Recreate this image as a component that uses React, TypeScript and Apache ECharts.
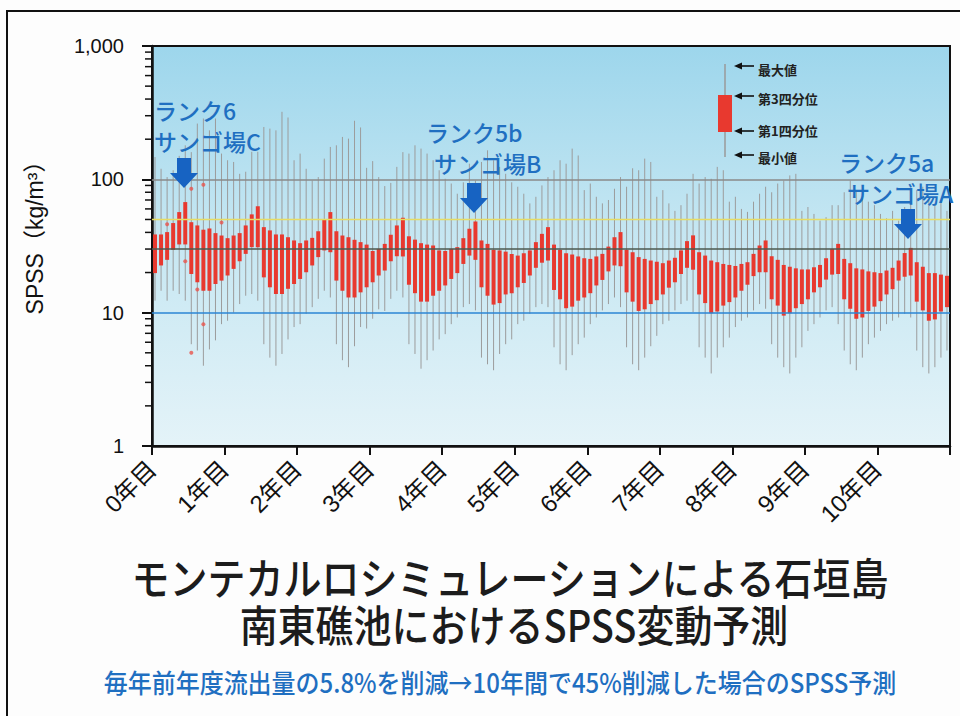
import React, { useEffect, useRef } from 'react';
import * as echarts from 'echarts';

// ---- data ----
const yearLabels = ['0年目', '1年目', '2年目', '3年目', '4年目', '5年目', '6年目', '7年目', '8年目', '9年目', '10年目'];
const monthsPerYear = 12;
const totalMonths = 132;
const yTickLabels = ['1', '10', '100', '1,000'];
const yMinorTickValues = [2, 3, 4, 5, 6, 7, 8, 9, 20, 30, 40, 50, 60, 70, 80, 90, 200, 300, 400, 500, 600, 700, 800, 900];
const yAxisTitle = 'SPSS（kg/m³）';

const qMin = [
  12.3, 14.6, 12.3, 14.6, 13.8, 12.3, 5.8, 5.2, 4.0, 5.3, 6.2, 8.2,
  8.7, 10, 11.6, 13.4, 13.8, 12.3, 5.8, 4.6, 4.0, 4.9, 6.3, 7.8,
  8.2, 9.8, 11, 12.7, 14.6, 13, 5.8, 4.4, 3.9, 5.6, 7.8, 7.6,
  9.0, 10.6, 10.3, 12.7, 14.6, 13.0, 5.8, 4.9, 3.8, 4.4, 5.2, 6.3,
  6.9, 8.2, 9.2, 11.0, 11.6, 10.4, 4.6, 4.1, 3.7, 4.9, 5.8, 6.3,
  8.2, 8.7, 9.8, 11.0, 11.6, 11.0, 5.5, 4.1, 3.7, 4.8, 5.8, 6.5,
  8.2, 9.2, 10.4, 11.6, 13.0, 11.0, 5.5, 4.1, 3.7, 4.6, 5.6, 6.7,
  8.2, 8.7, 10.4, 11.6, 12.3, 10.1, 5.5, 4.6, 3.5, 4.6, 5.5, 6.5,
  7.8, 8.7, 9.2, 10.4, 11.6, 10.7, 5.8, 4.6, 3.9, 3.5, 4.6, 5.5,
  7.3, 8.2, 9.2, 10.4, 11.0, 8.2, 5.2, 4.1, 3.7, 4.6, 5.8, 6.5,
  7.3, 8.2, 8.7, 9.2, 9.8, 9.2, 5.2, 3.9, 3.5, 3.9, 4.6, 5.2,
];
const q1 = [
  19.8, 22.6, 24.9, 29.6, 32.5, 32.5, 19.5, 16.9, 14.6, 14.6, 16.4, 17.4,
  19.0, 21.3, 24.3, 27.6, 31.0, 31.0, 18.4, 15.5, 13.8, 13.8, 15.1, 16.4,
  17.9, 20.1, 22.6, 26.1, 29.3, 28.4, 17.4, 14.6, 13.0, 13.0, 14.2, 15.5,
  16.9, 19.0, 20.7, 24.3, 26.5, 26.4, 16.2, 14.0, 12.1, 12.1, 13.4, 14.6,
  16.0, 17.9, 19.8, 23.2, 26.8, 24.9, 15.5, 13.4, 11.5, 11.8, 13.7, 14.0,
  15.5, 16.7, 19.0, 21.7, 23.7, 24.6, 14.8, 12.6, 10.8, 11.1, 12.3, 13.0,
  14.0, 16.0, 17.6, 20.4, 22.6, 22.3, 14.2, 12.1, 10.3, 10.6, 11.6, 12.4,
  13.7, 15.4, 16.9, 19.5, 21.7, 21.0, 13.7, 11.8, 9.9, 10.2, 11.3, 12.0,
  13.0, 14.6, 16.2, 18.8, 20.1, 20.1, 12.6, 11.3, 9.5, 9.9, 10.8, 11.6,
  12.6, 14.2, 15.5, 17.7, 19.3, 19.5, 12.6, 10.7, 9.0, 9.2, 10.3, 11.1,
  12.2, 13.7, 15.0, 17.4, 18.6, 19.0, 12.1, 10.4, 8.7, 8.9, 10.2, 11.0,
];
const q3 = [
  38.6, 38.6, 40.2, 47.0, 56.8, 67.5, 47.7, 45.1, 41.9, 42.8, 39.5, 37.9,
  36.2, 37.9, 39.5, 45.1, 54.6, 62.7, 43.8, 41.4, 38.6, 38.6, 36.8, 34.8,
  33.2, 34.8, 36.4, 40.8, 49.8, 56.8, 40.8, 37.9, 36.8, 35.2, 33.8, 32.4,
  29.0, 30.1, 32.8, 38.4, 45.1, 51.5, 37.4, 35.3, 33.2, 32.4, 31.9, 29.3,
  29.0, 30.1, 31.0, 36.2, 42.6, 48.3, 34.8, 32.8, 29.6, 29.3, 28.7, 27.6,
  26.8, 27.9, 29.3, 33.8, 39.0, 43.8, 32.4, 29.6, 27.9, 27.3, 26.4, 25.6,
  25.3, 26.4, 27.6, 31.3, 36.8, 40.2, 29.6, 28.4, 26.1, 25.3, 24.6, 24.1,
  23.5, 24.6, 25.8, 29.3, 34.4, 38.0, 28.4, 26.8, 24.6, 23.9, 23.2, 22.8,
  22.4, 23.2, 23.9, 27.6, 31.9, 34.8, 26.5, 24.9, 22.8, 22.1, 21.5, 21.1,
  21.1, 21.9, 22.8, 25.6, 30.1, 32.8, 25.3, 23.5, 21.5, 21.1, 20.4, 20.1,
  19.8, 20.7, 21.7, 24.6, 28.0, 30.6, 23.9, 22.1, 19.8, 19.8, 19.3, 18.9,
];
const qMax = [
  147, 120, 104, 117, 150, 180, 160, 262, 286, 233, 286, 156,
  139, 135, 110, 114, 161, 161, 247, 240, 233, 321, 291, 139,
  156, 120, 98, 104, 143, 175, 180, 208, 202, 275, 245, 122,
  137, 104, 89, 94, 124, 160, 156, 180, 170, 156, 139, 117,
  101, 93, 78, 95, 131, 98, 135, 165, 139, 124, 110, 95,
  88, 78, 66, 74, 90, 104, 117, 139, 131, 170, 151, 83,
  93, 74, 66, 70, 85, 104, 88, 121, 117, 143, 135, 74,
  83, 66, 58, 64, 78, 110, 93, 104, 101, 124, 117, 68,
  74, 60, 57, 68, 78, 88, 80, 93, 98, 107, 110, 58,
  62, 55, 49, 52, 64, 64, 80, 98, 83, 78, 68, 64,
  55, 51, 58, 49, 62, 74, 83, 88, 70, 66, 68, 58,
];
const outlierMonths = [2, 5, 6, 6, 7, 8, 8, 11];
const outlierValues = [46, 24.3, 85, 5.0, 14.9, 91, 8.2, 47.5];

const refLevels = [10, 30, 50, 100];
const refColors = ['#2b86d4', '#4d5a50', '#e8dc62', '#8a8a8a'];

const legendItems = ['最大値', '第3四分位', '第1四分位', '最小値'];
const annotations = [
  { rank: 'ランク6', site: 'サンゴ場C' },
  { rank: 'ランク5b', site: 'サンゴ場B' },
  { rank: 'ランク5a', site: 'サンゴ場A' },
];
const titleLine1 = 'モンテカルロシミュレーションによる石垣島';
const titleLine2 = '南東礁池におけるSPSS変動予測';
const subTitle = '毎年前年度流出量の5.8%を削減→10年間で45%削減した場合のSPSS予測';

// ---- style ----
const FONT_LATIN = '"Liberation Sans", "Noto Sans CJK JP", sans-serif';
const FONT_JP = '"Noto Sans CJK JP", sans-serif';
const BLUE = '#1f6fc1';
const ARROW_BLUE = '#1763c2';
const RED = '#e8392f';

function downArrow(cx: number, ty: number) {
  return {
    type: 'polygon',
    shape: {
      points: [
        [cx - 7, ty], [cx + 7, ty], [cx + 7, ty + 15], [cx + 14, ty + 15],
        [cx, ty + 30], [cx - 14, ty + 15], [cx - 7, ty + 15],
      ],
    },
    style: { fill: ARROW_BLUE },
    z: 100,
  };
}

function leftArrow(x1: number, x2: number, y: number) {
  return [
    { type: 'line', shape: { x1: x1 + 5, y1: y, x2, y2: y }, style: { stroke: '#111', lineWidth: 1.6 }, z: 100 },
    { type: 'polygon', shape: { points: [[x1, y], [x1 + 8, y - 3.5], [x1 + 8, y + 3.5]] }, style: { fill: '#111' }, z: 100 },
  ];
}

export default function App() {
  const ref = useRef<HTMLDivElement>(null);

  useEffect(() => {
    document.body.style.margin = '0';
    const chart = echarts.init(ref.current as HTMLDivElement, null, { renderer: 'svg' });

    const boxData = q1.map((_, i) => [i + 0.5, qMin[i], q1[i], q3[i], qMax[i]]);
    const outlierData = outlierMonths.map((m, i) => [m + 0.5, outlierValues[i]]);
    const minorTickData = yMinorTickValues.map((v) => [0, v]);

    const annPos = [
      { x: 154, y1: 110, y2: 141, ax: 184, ay: 158 },
      { x: 426, y1: 132, y2: 163, ax: 474, ay: 183 },
      { x: 839, y1: 162, y2: 193, ax: 908, ay: 209 },
    ];
    const annGraphics: any[] = [];
    annotations.forEach((a, i) => {
      const p = annPos[i];
      annGraphics.push({
        type: 'text', x: p.x, y: p.y1, z: 100,
        style: { text: a.rank, font: `500 23px ${FONT_JP}`, fill: BLUE, align: 'left', verticalAlign: 'middle' },
      });
      annGraphics.push({
        type: 'text', x: p.x + (i === 0 ? 0 : 8), y: p.y2, z: 100,
        style: { text: a.site, font: `500 23px ${FONT_JP}`, fill: BLUE, align: 'left', verticalAlign: 'middle' },
      });
      annGraphics.push(downArrow(p.ax, p.ay));
    });

    const legendY = [66, 96, 131, 155];
    const legendTextY = [69, 98, 130, 157];
    const legendGraphics: any[] = [
      { type: 'line', shape: { x1: 725, y1: 64, x2: 725, y2: 157 }, style: { stroke: '#9a9a9a', lineWidth: 1.5 }, z: 100 },
      { type: 'rect', shape: { x: 718, y: 95, width: 14, height: 37 }, style: { fill: RED }, z: 100 },
    ];
    legendItems.forEach((t, i) => {
      legendGraphics.push(...leftArrow(734, 754, legendY[i]));
      legendGraphics.push({
        type: 'text', x: 758, y: legendTextY[i], z: 100,
        style: { text: t, font: `bold 13px ${FONT_JP}`, fill: '#222', align: 'left', verticalAlign: 'middle' },
      });
    });

    const option: any = {
      animation: false,
      backgroundColor: '#fdfdfd',
      grid: {
        left: 152, right: 10, top: 46, bottom: 270,
        containLabel: false,
        outerBoundsMode: 'none',
        show: true,
        borderColor: '#111',
        borderWidth: 2,
        backgroundColor: {
          type: 'linear', x: 0, y: 0, x2: 0, y2: 1,
          colorStops: [
            { offset: 0, color: '#9dd6ec' },
            { offset: 0.45, color: '#c4e6f2' },
            { offset: 1, color: '#e4f3f8' },
          ],
        },
      },
      xAxis: {
        type: 'value',
        min: 0,
        max: totalMonths,
        interval: monthsPerYear,
        splitLine: { show: false },
        axisLine: { show: true, lineStyle: { color: '#111', width: 2.5 } },
        axisTick: { show: true, length: 9, lineStyle: { color: '#111', width: 2 } },
        axisLabel: {
          rotate: 45,
          margin: 19,
          fontSize: 24,
          color: '#111',
          fontFamily: FONT_LATIN,
          showMaxLabel: true,
          formatter: (v: number) => {
            const k = Math.round(v / monthsPerYear);
            return k < yearLabels.length ? yearLabels[k] : '';
          },
        },
      },
      yAxis: {
        type: 'log',
        logBase: 10,
        min: 1,
        max: 1000,
        splitLine: { show: false },
        axisLine: { show: true, lineStyle: { color: '#111', width: 2.5 } },
        axisTick: { show: true, length: 10, lineStyle: { color: '#111', width: 2 } },
        minorTick: { show: false },
        axisLabel: {
          margin: 28,
          fontSize: 20,
          color: '#111',
          fontFamily: FONT_LATIN,
          formatter: (v: number) => {
            const k = Math.round(Math.log10(v));
            return yTickLabels[k] ?? '';
          },
        },
      },
      series: [
        {
          type: 'custom',
          name: 'SPSS',
          z: 2,
          encode: { x: 0, y: [1, 2, 3, 4] },
          data: boxData,
          renderItem: (params: any, api: any) => {
            const x = api.value(0);
            const pMin = api.coord([x, api.value(1)]);
            const pQ1 = api.coord([x, api.value(2)]);
            const pQ3 = api.coord([x, api.value(3)]);
            const pMax = api.coord([x, api.value(4)]);
            const band = api.coord([x + 1, api.value(1)])[0] - pMin[0];
            const w = band * 0.66;
            return {
              type: 'group',
              children: [
                {
                  type: 'line',
                  shape: { x1: pMin[0], y1: pMin[1], x2: pMax[0], y2: pMax[1] },
                  style: { stroke: '#9c9c9c', lineWidth: 1 },
                },
                {
                  type: 'rect',
                  shape: { x: pQ3[0] - w / 2, y: pQ3[1], width: w, height: pQ1[1] - pQ3[1] },
                  style: { fill: RED },
                },
              ],
            };
          },
        },
        {
          type: 'custom',
          name: 'minorTicks',
          z: 6,
          clip: false,
          silent: true,
          encode: { x: 0, y: 1 },
          data: minorTickData,
          renderItem: (params: any, api: any) => {
            const p = api.coord([api.value(0), api.value(1)]);
            return {
              type: 'line',
              shape: { x1: p[0] - 7, y1: p[1], x2: p[0], y2: p[1] },
              style: { stroke: '#111', lineWidth: 1.5 },
            };
          },
        },
        {
          type: 'scatter',
          name: 'outliers',
          z: 3,
          symbol: 'circle',
          symbolSize: 4,
          itemStyle: { color: '#e8544c' },
          data: outlierData,
          markLine: {
            silent: true,
            symbol: ['none', 'none'],
            label: { show: false },
            data: refLevels.map((v, i) => ({
              yAxis: v,
              lineStyle: { color: refColors[i], width: i === 2 ? 1.3 : 1.6, type: 'solid' },
            })),
          },
        },
      ],
      graphic: [
        {
          type: 'polyline',
          shape: { points: [[7, 716], [7, 11], [960, 11]] },
          style: { stroke: '#111', lineWidth: 2, fill: 'none' },
          z: 100,
        },
        {
          type: 'text', x: 35, y: 232, rotation: Math.PI / 2, z: 100,
          style: { text: yAxisTitle, font: `23px ${FONT_LATIN}`, fill: '#111', align: 'center', verticalAlign: 'middle' },
        },
        ...legendGraphics,
        ...annGraphics,
        {
          type: 'text', x: 510, y: 576, scaleY: 1.15, z: 100,
          style: { text: titleLine1, font: `500 38px ${FONT_JP}`, fill: '#1c1c1c', align: 'center', verticalAlign: 'middle' },
        },
        {
          type: 'text', x: 514, y: 623, scaleY: 1.15, z: 100,
          style: { text: titleLine2, font: `500 38px ${FONT_JP}`, fill: '#1c1c1c', align: 'center', verticalAlign: 'middle' },
        },
        {
          type: 'text', x: 500, y: 681, scaleY: 1.1, z: 100,
          style: { text: subTitle, font: `500 24px ${FONT_JP}`, fill: BLUE, align: 'center', verticalAlign: 'middle' },
        },
      ],
    };

    chart.setOption(option);
    return () => chart.dispose();
  }, []);

  return (
    <div
      ref={ref}
      style={{ position: 'fixed', left: 0, top: 0, width: 960, height: 716, background: '#fdfdfd' }}
    />
  );
}
